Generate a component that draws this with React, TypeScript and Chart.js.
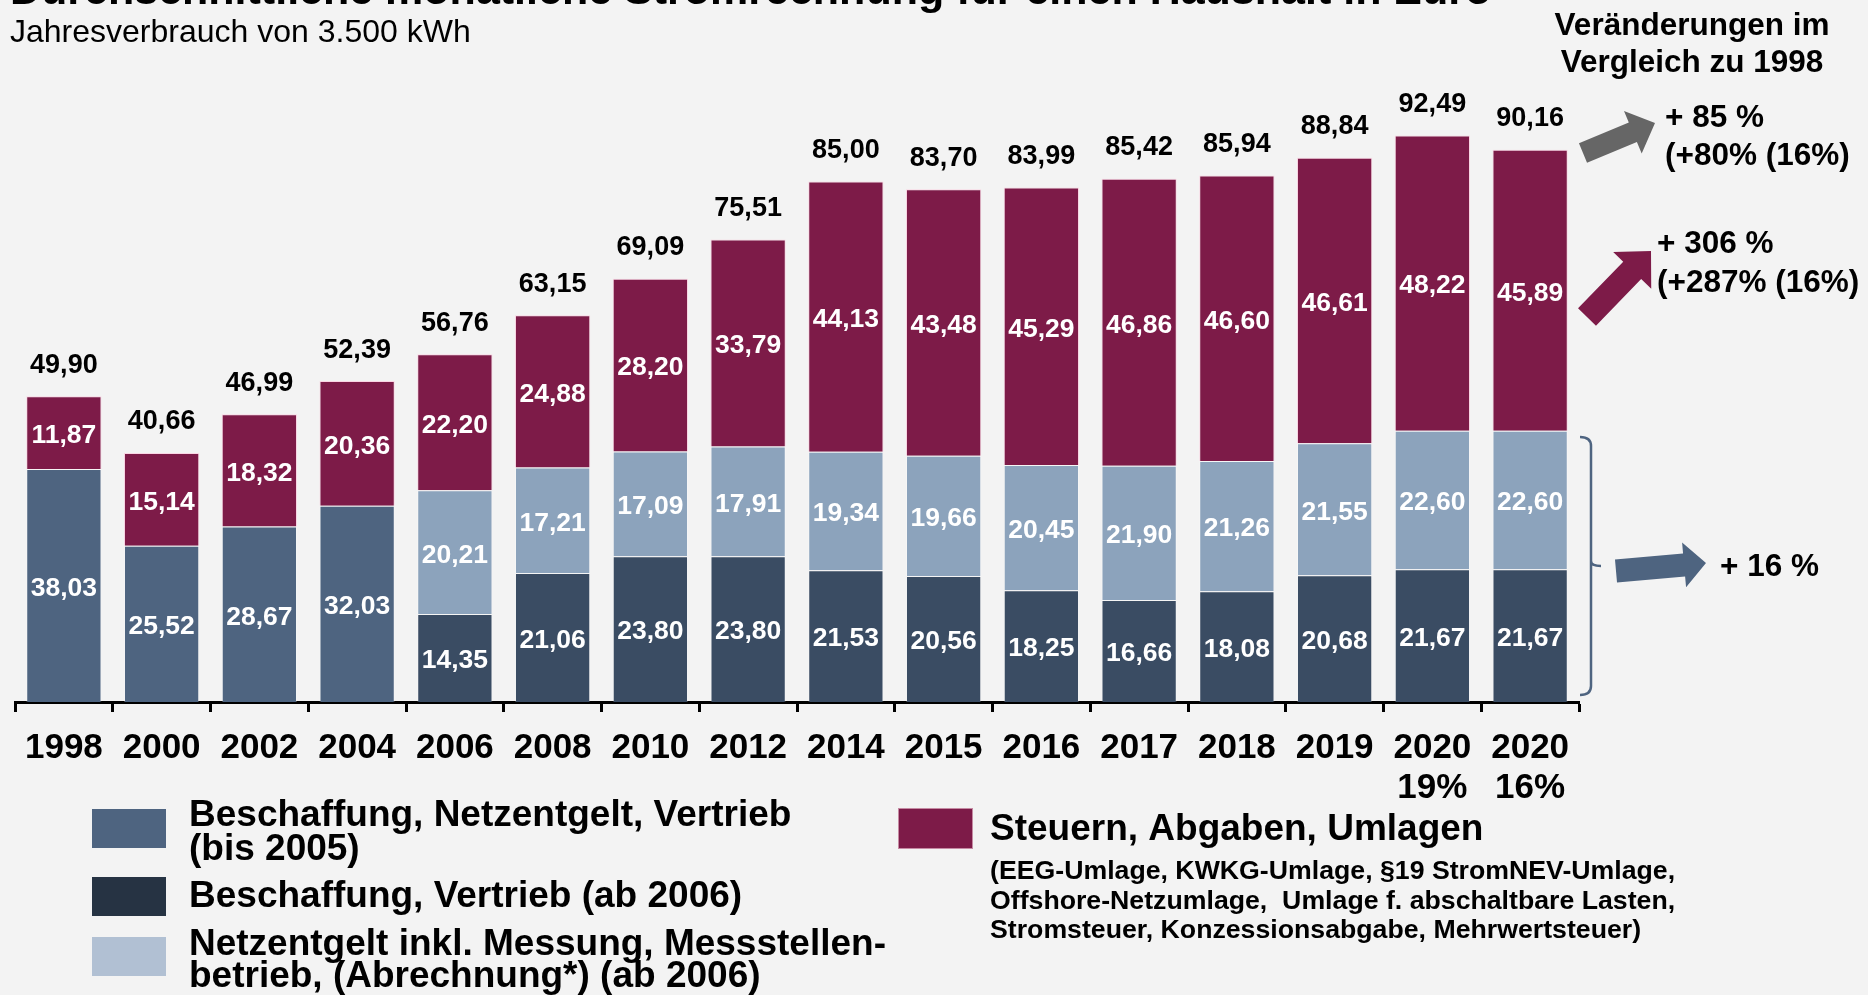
import React, { useEffect, useRef } from 'react';
import { Chart, registerables } from 'chart.js';

Chart.register(...registerables);

const FONT = '"Liberation Sans", Arial, Helvetica, sans-serif';

// ---- data ----
const years = ['1998', '2000', '2002', '2004', '2006', '2008', '2010', '2012', '2014', '2015', '2016', '2017', '2018', '2019', '2020', '2020'];
const yearNotes = ['', '', '', '', '', '', '', '', '', '', '', '', '', '', '19%', '16%'];

const supplyGridSalesUntil2005 = [38.03, 25.52, 28.67, 32.03, null, null, null, null, null, null, null, null, null, null, null, null];
const supplySalesFrom2006 = [null, null, null, null, 14.35, 21.06, 23.8, 23.8, 21.53, 20.56, 18.25, 16.66, 18.08, 20.68, 21.67, 21.67];
const gridFeesFrom2006 = [null, null, null, null, 20.21, 17.21, 17.09, 17.91, 19.34, 19.66, 20.45, 21.9, 21.26, 21.55, 22.6, 22.6];
const taxesLevies = [11.87, 15.14, 18.32, 20.36, 22.2, 24.88, 28.2, 33.79, 44.13, 43.48, 45.29, 46.86, 46.6, 46.61, 48.22, 45.89];
const totals = [49.9, 40.66, 46.99, 52.39, 56.76, 63.15, 69.09, 75.51, 85.0, 83.7, 83.99, 85.42, 85.94, 88.84, 92.49, 90.16];

const seriesNames = [
  'Beschaffung, Netzentgelt, Vertrieb (bis 2005)',
  'Beschaffung, Vertrieb (ab 2006)',
  'Netzentgelt inkl. Messung, Messstellenbetrieb, (Abrechnung*) (ab 2006)',
  'Steuern, Abgaben, Umlagen',
];

const titleText = 'Durchschnittliche monatliche Stromrechnung für einen Haushalt in Euro';
const subtitleText = 'Jahresverbrauch von 3.500 kWh';
const changeHeading = ['Veränderungen im', 'Vergleich zu 1998'];
const changeTotal = ['+ 85 %', '(+80% (16%)'];
const changeTaxes = ['+ 306 %', '(+287% (16%)'];
const changeGrid = '+ 16 %';

const legendLeft = [
  ['Beschaffung, Netzentgelt, Vertrieb', '(bis 2005)'],
  ['Beschaffung, Vertrieb (ab 2006)'],
  ['Netzentgelt inkl. Messung, Messstellen-', 'betrieb, (Abrechnung*) (ab 2006)'],
];
const legendRightMain = 'Steuern, Abgaben, Umlagen';
const legendRightSub = [
  '(EEG-Umlage, KWKG-Umlage, §19 StromNEV-Umlage,',
  'Offshore-Netzumlage,  Umlage f. abschaltbare Lasten,',
  'Stromsteuer, Konzessionsabgabe, Mehrwertsteuer)',
];

// ---- styles ----
const C_OLD = '#4E6480';
const C_DARK = '#3A4C63';
const C_LIGHT = '#8CA3BC';
const C_TAX = '#7D1B48';
const C_LEG_DARK = '#263343';
const C_LEG_LIGHT = '#B1C0D3';
const BG = '#F3F3F3';

const fmt = (v: number) => v.toFixed(2).replace('.', ',');

function drawArrow(ctx: CanvasRenderingContext2D, x1: number, y1: number, x2: number, y2: number, shaftW: number, headW: number, headL: number, color: string) {
  const ang = Math.atan2(y2 - y1, x2 - x1);
  const len = Math.hypot(x2 - x1, y2 - y1);
  ctx.save();
  ctx.translate(x1, y1);
  ctx.rotate(ang);
  ctx.beginPath();
  ctx.moveTo(0, -shaftW / 2);
  ctx.lineTo(len - headL, -shaftW / 2);
  ctx.lineTo(len - headL, -headW / 2);
  ctx.lineTo(len, 0);
  ctx.lineTo(len - headL, headW / 2);
  ctx.lineTo(len - headL, shaftW / 2);
  ctx.lineTo(0, shaftW / 2);
  ctx.closePath();
  ctx.fillStyle = color;
  ctx.fill();
  ctx.restore();
}

const valueLabels = {
  id: 'valueLabels',
  afterDatasetsDraw(chart: any) {
    const ctx: CanvasRenderingContext2D = chart.ctx;
    ctx.save();
    ctx.font = `bold 26.5px ${FONT}`;
    ctx.textAlign = 'center';
    ctx.textBaseline = 'middle';
    ctx.fillStyle = '#FFFFFF';
    chart.data.datasets.forEach((ds: any, di: number) => {
      const meta = chart.getDatasetMeta(di);
      meta.data.forEach((bar: any, i: number) => {
        const v = ds.data[i];
        if (v == null) return;
        ctx.fillText(fmt(v), bar.x, (bar.y + bar.base) / 2 + 3);
      });
    });
    ctx.fillStyle = '#000000';
    ctx.font = `bold 27px ${FONT}`;
    totals.forEach((t, i) => {
      let top = Infinity;
      let x = 0;
      chart.data.datasets.forEach((ds: any, di: number) => {
        if (ds.data[i] == null) return;
        const el = chart.getDatasetMeta(di).data[i];
        if (el.y < top) top = el.y;
        x = el.x;
      });
      ctx.fillText(fmt(t), x, top - 31);
    });
    ctx.restore();
  },
};

const decorations = {
  id: 'decorations',
  afterDraw(chart: any) {
    const ctx: CanvasRenderingContext2D = chart.ctx;
    ctx.save();
    ctx.fillStyle = '#000';
    ctx.textBaseline = 'alphabetic';

    // title (cut at top) & subtitle
    ctx.textAlign = 'left';
    ctx.font = `bold 43px ${FONT}`;
    ctx.fillText(titleText, 10, 4);
    ctx.font = `32px ${FONT}`;
    ctx.fillText(subtitleText, 10, 42);

    // right side heading
    ctx.textAlign = 'center';
    ctx.font = `bold 31.5px ${FONT}`;
    ctx.fillText(changeHeading[0], 1692, 35);
    ctx.fillText(changeHeading[1], 1692, 72);

    ctx.textAlign = 'left';
    ctx.fillText(changeTotal[0], 1665, 127);
    ctx.fillText(changeTotal[1], 1665, 165);
    ctx.fillText(changeTaxes[0], 1657, 253);
    ctx.fillText(changeTaxes[1], 1657, 292);
    ctx.fillText(changeGrid, 1720, 576);

    // arrows
    drawArrow(ctx, 1583, 153, 1655, 123, 21, 46, 24, '#666666');
    drawArrow(ctx, 1587, 317, 1651, 251, 25, 53, 27, C_TAX);
    drawArrow(ctx, 1616, 571, 1706, 563, 23, 45, 22, C_OLD);

    // bracket
    ctx.strokeStyle = C_OLD;
    ctx.lineWidth = 2.5;
    ctx.beginPath();
    ctx.moveTo(1580, 437);
    ctx.quadraticCurveTo(1591, 437, 1591, 446);
    ctx.lineTo(1591, 561);
    ctx.quadraticCurveTo(1591, 566, 1601, 566);
    ctx.moveTo(1591, 561);
    ctx.quadraticCurveTo(1591, 566, 1591, 571);
    ctx.lineTo(1591, 686);
    ctx.quadraticCurveTo(1591, 695, 1580, 695);
    ctx.stroke();

    // legend left column
    const boxes = [
      { y: 809, color: C_OLD },
      { y: 877, color: C_LEG_DARK },
      { y: 937, color: C_LEG_LIGHT },
    ];
    const baselines = [[826, 860], [907], [955, 987]];
    ctx.font = `bold 37px ${FONT}`;
    boxes.forEach((b, i) => {
      ctx.fillStyle = b.color;
      ctx.fillRect(92, b.y, 74, 39);
      ctx.fillStyle = '#000';
      legendLeft[i].forEach((line, li) => ctx.fillText(line, 189, baselines[i][li]));
    });

    // legend right column
    ctx.fillStyle = C_TAX;
    ctx.fillRect(898, 808, 75, 41);
    ctx.strokeStyle = '#C58AA3';
    ctx.lineWidth = 1;
    ctx.strokeRect(898.5, 808.5, 74, 40);
    ctx.fillStyle = '#000';
    ctx.font = `bold 37px ${FONT}`;
    ctx.fillText(legendRightMain, 990, 840);
    ctx.font = `bold 26.7px ${FONT}`;
    const subBase = [879, 909, 938];
    legendRightSub.forEach((line, i) => ctx.fillText(line, 990, subBase[i]));

    ctx.restore();
  },
};

export default function App() {
  const ref = useRef<HTMLCanvasElement | null>(null);

  useEffect(() => {
    if (!ref.current) return;
    Chart.defaults.font.family = FONT;
    const labels = years.map((y, i) => (yearNotes[i] ? [y, yearNotes[i]] : y));
    const mk = (label: string, data: (number | null)[], color: string, border: string) => ({
      label,
      data,
      backgroundColor: color,
      borderColor: border,
      borderWidth: 1,
      barPercentage: 0.77,
      categoryPercentage: 1.0,
    });
    const chart = new Chart(ref.current, {
      type: 'bar',
      data: {
        labels,
        datasets: [
          mk(seriesNames[0], supplyGridSalesUntil2005, C_OLD, 'rgba(255,255,255,0.25)'),
          mk(seriesNames[1], supplySalesFrom2006, C_DARK, 'rgba(255,255,255,0.2)'),
          mk(seriesNames[2], gridFeesFrom2006, C_LIGHT, 'rgba(255,255,255,0.3)'),
          mk(seriesNames[3], taxesLevies, C_TAX, 'rgba(255,190,215,0.55)'),
        ],
      },
      options: {
        responsive: false,
        animation: false,
        devicePixelRatio: 1,
        layout: { padding: { top: 89.5, left: 15, right: 289, bottom: 0 } },
        plugins: {
          legend: { display: false },
          tooltip: { enabled: false },
          title: { display: false },
        },
        scales: {
          x: {
            stacked: true,
            offset: true,
            grid: {
              display: true,
              drawOnChartArea: false,
              drawTicks: true,
              tickLength: 10,
              tickWidth: 3,
              tickColor: '#000',
              offset: true,
            },
            border: { display: true, color: '#000', width: 3 },
            ticks: {
              color: '#000',
              font: { size: 35, weight: 'bold', lineHeight: 1.15 },
              padding: 16,
              maxRotation: 0,
              autoSkip: false,
            },
            afterFit: (scale: any) => {
              scale.height = 293;
            },
          },
          y: { stacked: true, display: false, min: 0, max: 100 },
        },
      },
      plugins: [valueLabels, decorations],
    } as any);
    return () => chart.destroy();
  }, []);

  return (
    <div style={{ position: 'absolute', left: 0, top: 0, width: 1868, height: 995, background: BG, overflow: 'hidden' }}>
      <canvas ref={ref} width={1868} height={995} style={{ display: 'block', width: 1868, height: 995 }} />
    </div>
  );
}
